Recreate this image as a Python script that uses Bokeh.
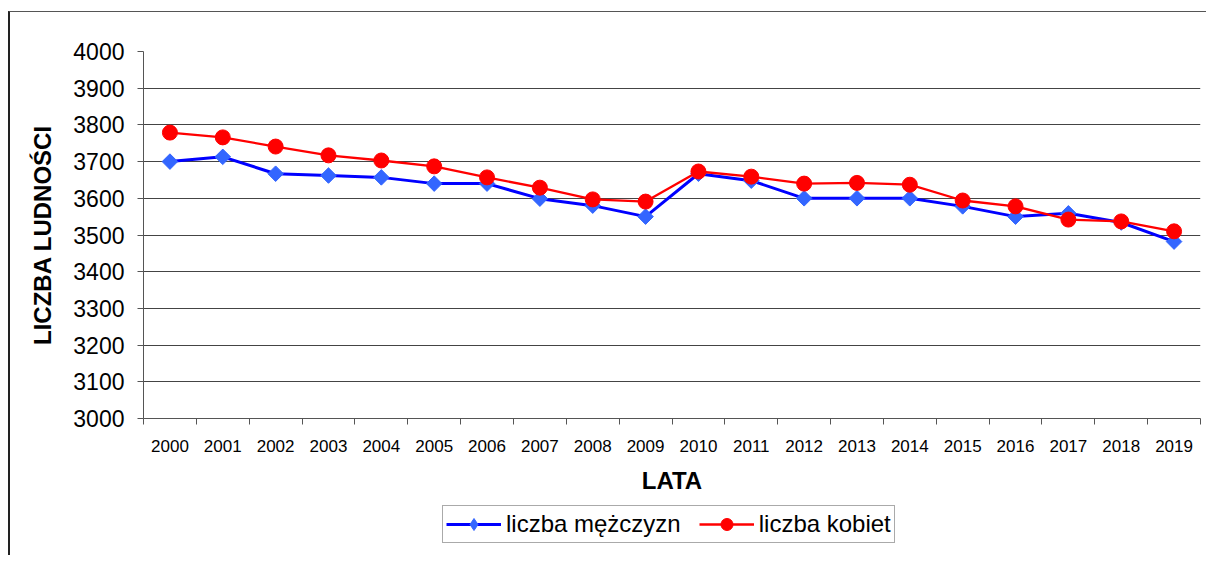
import math
from bokeh.plotting import figure
from bokeh.layouts import column
from bokeh.models import (FixedTicker, Legend, LegendItem, ColumnDataSource, Range1d)
from bokeh.embed import file_html
from bokeh.resources import INLINE

years = [str(y) for y in range(2000, 2020)]
men = [3700, 3713, 3667, 3662, 3657, 3640, 3640, 3599, 3580, 3550,
       3667, 3648, 3600, 3600, 3600, 3578, 3550, 3559, 3534, 3482]
women = [3779, 3766, 3741, 3717, 3703, 3687, 3657, 3629, 3597, 3591,
         3673, 3659, 3640, 3642, 3637, 3594, 3578, 3542, 3537, 3510]
y_ticks = list(range(3000, 4001, 100))
series_names = ["liczba mężczyzn", "liczba kobiet"]

xpos = [i + 0.5 for i in range(len(years))]
src = ColumnDataSource(dict(x=xpos, men=men, women=women))

FONT = "Liberation Sans"
BLUE_LINE, BLUE_MARK = "#0000FF", "#3366FF"
RED = "#FF0000"

p = figure(width=1196, height=491, output_backend="svg", toolbar_location=None,
           x_range=Range1d(0, len(years)), y_range=Range1d(3000, 4000),
           min_border_left=133, min_border_right=6, min_border_top=39,
           min_border_bottom=85)
p.outline_line_color = None
p.background_fill_color = "white"

# x axis: ticks at category boundaries, labels centred
p.xaxis.ticker = FixedTicker(ticks=xpos, minor_ticks=list(range(len(years) + 1)))
p.xaxis.major_label_overrides = {x: y for x, y in zip(xpos, years)}
p.xaxis.major_tick_in = 0
p.xaxis.major_tick_out = 0
p.xaxis.minor_tick_in = 0
p.xaxis.minor_tick_out = 6
p.xaxis.minor_tick_line_color = "#555555"
p.xaxis.axis_line_color = "#555555"
p.xaxis.major_label_text_font = FONT
p.xaxis.major_label_text_font_size = "17px"
p.xaxis.major_label_text_color = "black"
p.xaxis.major_label_standoff = 15
p.xaxis.axis_label = "LATA"
p.xaxis.axis_label_text_font = FONT
p.xaxis.axis_label_text_font_size = "24px"
p.xaxis.axis_label_text_font_style = "bold"
p.xaxis.axis_label_text_color = "black"
p.xaxis.axis_label_standoff = 12

p.yaxis.ticker = FixedTicker(ticks=y_ticks)
p.yaxis.major_tick_in = 0
p.yaxis.major_tick_out = 6
p.yaxis.major_tick_line_color = "#555555"
p.yaxis.minor_tick_line_color = None
p.yaxis.axis_line_color = "#555555"
p.yaxis.major_label_text_font = FONT
p.yaxis.major_label_text_font_size = "23px"
p.yaxis.major_label_text_color = "black"
p.yaxis.major_label_standoff = 13
p.yaxis.axis_label = "LICZBA LUDNOŚCI"
p.yaxis.axis_label_text_font = FONT
p.yaxis.axis_label_text_font_size = "24px"
p.yaxis.axis_label_text_font_style = "bold"
p.yaxis.axis_label_text_color = "black"
p.yaxis.axis_label_standoff = 14

p.xgrid.grid_line_color = None
p.ygrid.ticker = FixedTicker(ticks=y_ticks)
p.ygrid.grid_line_color = "#444444"
p.ygrid.grid_line_width = 1

p.line("x", "men", source=src, line_color=BLUE_LINE, line_width=3)
p.scatter("x", "men", source=src, marker="square", size=11, angle=math.pi / 4,
          fill_color=BLUE_MARK, line_color=BLUE_MARK)
p.line("x", "women", source=src, line_color=RED, line_width=2.3)
p.scatter("x", "women", source=src, marker="circle", size=15,
          fill_color=RED, line_color=RED)

# legend strip (separate canvas so it is not clipped by the plot frame);
# its renderers use the same data, but its ranges keep them out of view
q = figure(width=1196, height=52, output_backend="svg", toolbar_location=None,
           x_axis_type=None, y_axis_type=None, x_range=Range1d(100, 101),
           y_range=Range1d(0, 1),
           min_border_left=133, min_border_right=6, min_border_top=0, min_border_bottom=0)
q.outline_line_color = None
q.xgrid.visible = False
q.ygrid.visible = False
ql1 = q.line("x", "men", source=src, line_color=BLUE_LINE, line_width=3)
qm1 = q.scatter("x", "men", source=src, marker="diamond", size=15,
                fill_color=BLUE_MARK, line_color=BLUE_MARK)
ql2 = q.line("x", "women", source=src, line_color=RED, line_width=2.3)
qm2 = q.scatter("x", "women", source=src, marker="circle", size=15,
                fill_color=RED, line_color=RED)

legend = Legend(items=[LegendItem(label=series_names[0], renderers=[ql1, qm1]),
                       LegendItem(label=series_names[1], renderers=[ql2, qm2])],
                orientation="horizontal", location=(299, 12))
legend.label_text_font = FONT
legend.label_text_font_size = "24px"
legend.label_text_color = "black"
legend.border_line_color = "#555555"
legend.border_line_width = 1
legend.glyph_width = 55
legend.glyph_height = 30
legend.padding = 3
legend.spacing = 18
legend.margin = 0
legend.label_standoff = 5
legend.label_height = 22
q.add_layout(legend, "center")

layout = column(p, q, spacing=0)
layout.styles = {"border-left": "2px solid #222222", "border-top": "1px solid #555555",
                 "margin-top": "11px", "margin-left": "8px"}

open("out.html", "w").write(file_html(layout, INLINE))
